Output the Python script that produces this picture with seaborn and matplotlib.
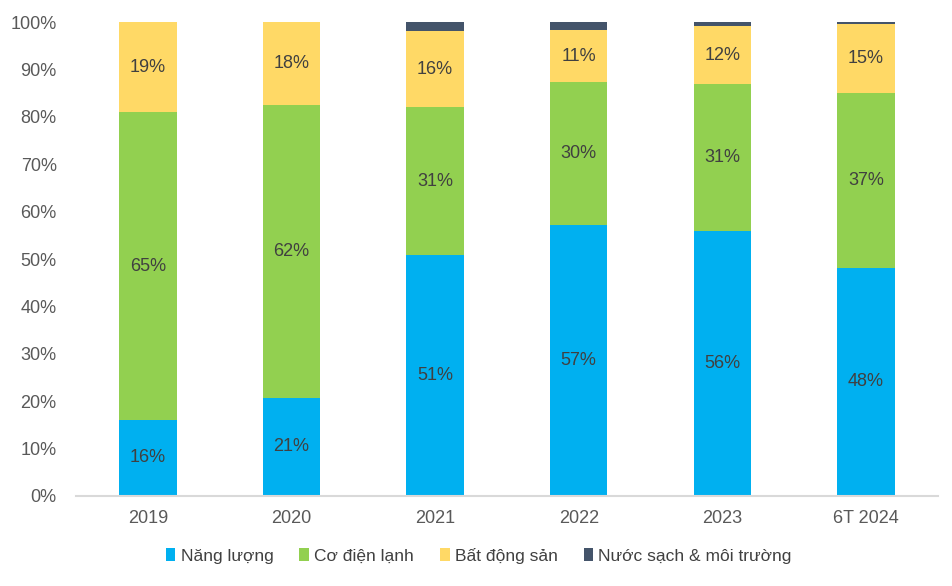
import pandas as pd
import matplotlib.pyplot as plt
import seaborn as sns
from matplotlib.patches import Patch
from matplotlib.ticker import PercentFormatter

# Data (share of revenue, %)
years = ["2019", "2020", "2021", "2022", "2023", "6T 2024"]
nang_luong = [16.0, 20.7, 50.8, 57.2, 55.9, 48.1]
co_dien_lanh = [65.0, 61.8, 31.2, 30.1, 31.0, 36.9]
bat_dong_san = [19.0, 17.6, 16.2, 11.0, 12.3, 14.7]
nuoc_sach = [0.0, 0.0, 1.8, 1.7, 0.8, 0.3]

series_names = ["Năng lượng", "Cơ điện lạnh", "Bất động sản", "Nước sạch & môi trường"]
colors = ["#00B0F0", "#92D050", "#FFD966", "#44546A"]

df = pd.DataFrame({
    "year": years,
    series_names[0]: nang_luong,
    series_names[1]: co_dien_lanh,
    series_names[2]: bat_dong_san,
    series_names[3]: nuoc_sach,
})
cum = df[series_names].cumsum(axis=1) / 100.0
cum["year"] = df["year"]

sns.set_theme(style="white")
plt.rcParams["font.family"] = ["Liberation Sans", "DejaVu Sans"]

fig = plt.figure(figsize=(9.52, 5.86), dpi=100)
ax = fig.add_axes([0.08, 0.154, 0.905, 0.808])

# Stacked bars: draw cumulative totals from the top series down
for name, color in zip(series_names[::-1], colors[::-1]):
    sns.barplot(data=cum, x="year", y=name, color=color, width=0.4,
                saturation=1, linewidth=0, edgecolor="none", ax=ax, zorder=2)

# Segment labels for the first three series
text_color = "#404040"
for i in range(len(years)):
    bottom = 0.0
    for name in series_names[:3]:
        val = df[name][i]
        top = cum[name][i]
        ax.text(i, (bottom + top) / 2, f"{round(val):.0f}%", ha="center",
                va="center", fontsize=13, color=text_color, zorder=3)
        bottom = top

ax.set_ylim(0, 1)
ax.set_xlim(-0.5, len(years) - 0.5)
ax.set_yticks([i / 10 for i in range(11)])
ax.yaxis.set_major_formatter(PercentFormatter(1.0, decimals=0))
ax.set_xlabel("")
ax.set_ylabel("")
ax.tick_params(axis="both", length=0, labelsize=13, colors="#595959")
ax.tick_params(axis="x", pad=10)
ax.tick_params(axis="y", pad=14)

for side in ["top", "right", "left"]:
    ax.spines[side].set_visible(False)
ax.spines["bottom"].set_color("#D9D9D9")
ax.spines["bottom"].set_linewidth(1.5)

handles = [Patch(facecolor=c, edgecolor="none", label=n) for n, c in zip(series_names, colors)]
fig.legend(handles=handles, loc="center", bbox_to_anchor=(0.503, 0.052), ncol=4,
           frameon=False, fontsize=12.5, handlelength=0.55, handleheight=0.7,
           handletextpad=0.3, columnspacing=1.5, labelcolor="#404040")

fig.savefig("out.png", dpi=100)
